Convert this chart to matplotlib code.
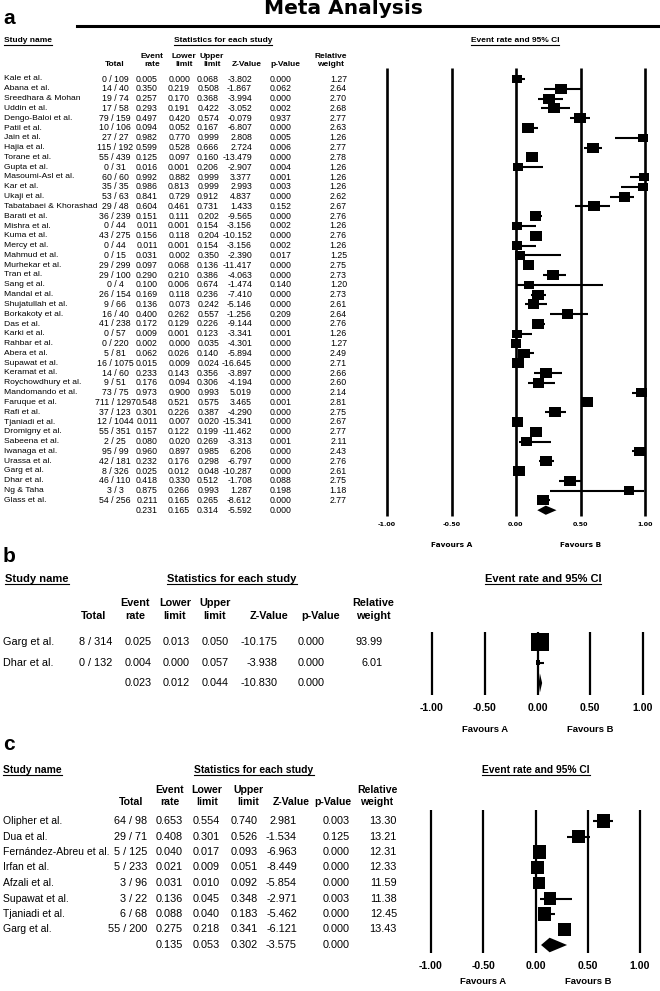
import matplotlib
matplotlib.use('Agg')
import matplotlib.pyplot as plt
from matplotlib.patches import Rectangle, Polygon
from matplotlib.lines import Line2D
from matplotlib.transforms import blended_transform_factory

# ---------------- data ----------------
# panel a
names_a = ["Kale et al.", "Abana et al.", "Sreedhara & Mohan", "Uddin et al.", "Dengo-Baloi et al.",
           "Patil et al.", "Jain et al.", "Hajia et al.", "Torane et al.", "Gupta et al.",
           "Masoumi-Asl et al.", "Kar et al.", "Ukaji et al.", "Tabatabaei & Khorashad", "Barati et al.",
           "Mishra et al.", "Kuma et al.", "Mercy et al.", "Mahmud et al.", "Murhekar et al.",
           "Tran et al.", "Sang et al.", "Mandal et al.", "Shujatullah et al.", "Borkakoty et al.",
           "Das et al.", "Karki et al.", "Rahbar et al.", "Abera et al.", "Supawat et al.",
           "Keramat et al.", "Roychowdhury et al.", "Mandomando et al.", "Faruque et al.", "Rafi et al.",
           "Tjaniadi et al.", "Dromigny et al.", "Sabeena et al.", "Iwanaga et al.", "Urassa et al.",
           "Garg et al.", "Dhar et al.", "Ng & Taha", "Glass et al."]
total_a = ["0 / 109", "14 / 40", "19 / 74", "17 / 58", "79 / 159", "10 / 106", "27 / 27", "115 / 192",
           "55 / 439", "0 / 31", "60 / 60", "35 / 35", "53 / 63", "29 / 48", "36 / 239", "0 / 44",
           "43 / 275", "0 / 44", "0 / 15", "29 / 299", "29 / 100", "0 / 4", "26 / 154", "9 / 66",
           "16 / 40", "41 / 238", "0 / 57", "0 / 220", "5 / 81", "16 / 1075", "14 / 60", "9 / 51",
           "73 / 75", "711 / 1297", "37 / 123", "12 / 1044", "55 / 351", "2 / 25", "95 / 99",
           "42 / 181", "8 / 326", "46 / 110", "3 / 3", "54 / 256"]
rate_a = [0.005, 0.350, 0.257, 0.293, 0.497, 0.094, 0.982, 0.599, 0.125, 0.016, 0.992, 0.986, 0.841,
          0.604, 0.151, 0.011, 0.156, 0.011, 0.031, 0.097, 0.290, 0.100, 0.169, 0.136, 0.400, 0.172,
          0.009, 0.002, 0.062, 0.015, 0.233, 0.176, 0.973, 0.548, 0.301, 0.011, 0.157, 0.080, 0.960,
          0.232, 0.025, 0.418, 0.875, 0.211]
lower_a = [0.000, 0.219, 0.170, 0.191, 0.420, 0.052, 0.770, 0.528, 0.097, 0.001, 0.882, 0.813, 0.729,
           0.461, 0.111, 0.001, 0.118, 0.001, 0.002, 0.068, 0.210, 0.006, 0.118, 0.073, 0.262, 0.129,
           0.001, 0.000, 0.026, 0.009, 0.143, 0.094, 0.900, 0.521, 0.226, 0.007, 0.122, 0.020, 0.897,
           0.176, 0.012, 0.330, 0.266, 0.165]
upper_a = [0.068, 0.508, 0.368, 0.422, 0.574, 0.167, 0.999, 0.666, 0.160, 0.206, 0.999, 0.999, 0.912,
           0.731, 0.202, 0.154, 0.204, 0.154, 0.350, 0.136, 0.386, 0.674, 0.236, 0.242, 0.557, 0.226,
           0.123, 0.035, 0.140, 0.024, 0.356, 0.306, 0.993, 0.575, 0.387, 0.020, 0.199, 0.269, 0.985,
           0.298, 0.048, 0.512, 0.993, 0.265]
z_a = [-3.802, -1.867, -3.994, -3.052, -0.079, -6.807, 2.808, 2.724, -13.479, -2.907, 3.377, 2.993,
       4.837, 1.433, -9.565, -3.156, -10.152, -3.156, -2.390, -11.417, -4.063, -1.474, -7.410, -5.146,
       -1.256, -9.144, -3.341, -4.301, -5.894, -16.645, -3.897, -4.194, 5.019, 3.465, -4.290, -15.341,
       -11.462, -3.313, 6.206, -6.797, -10.287, -1.708, 1.287, -8.612]
p_a = [0.000, 0.062, 0.000, 0.002, 0.937, 0.000, 0.005, 0.006, 0.000, 0.004, 0.001, 0.003, 0.000,
       0.152, 0.000, 0.002, 0.000, 0.002, 0.017, 0.000, 0.000, 0.140, 0.000, 0.000, 0.209, 0.000,
       0.001, 0.000, 0.000, 0.000, 0.000, 0.000, 0.000, 0.001, 0.000, 0.000, 0.000, 0.001, 0.000,
       0.000, 0.000, 0.088, 0.198, 0.000]
weight_a = [1.27, 2.64, 2.70, 2.68, 2.77, 2.63, 1.26, 2.77, 2.78, 1.26, 1.26, 1.26, 2.62, 2.67, 2.76,
            1.26, 2.76, 1.26, 1.25, 2.75, 2.73, 1.20, 2.73, 2.61, 2.64, 2.76, 1.26, 1.27, 2.49, 2.71,
            2.66, 2.60, 2.14, 2.81, 2.75, 2.67, 2.77, 2.11, 2.43, 2.76, 2.61, 2.75, 1.18, 2.77]
summary_a = [0.231, 0.165, 0.314, -5.592, 0.000]

# panel b
names_b = ["Garg et al.", "Dhar et al."]
total_b = ["8 / 314", "0 / 132"]
rate_b = [0.025, 0.004]
lower_b = [0.013, 0.000]
upper_b = [0.050, 0.057]
z_b = [-10.175, -3.938]
p_b = [0.000, 0.000]
weight_b = [93.99, 6.01]
summary_b = [0.023, 0.012, 0.044, -10.830, 0.000]

# panel c
names_c = ["Olipher et al.", "Dua et al.", "Fernández-Abreu et al.", "Irfan et al.", "Afzali et al.",
           "Supawat et al.", "Tjaniadi et al.", "Garg et al."]
total_c = ["64 / 98", "29 / 71", "5 / 125", "5 / 233", "3 / 96", "3 / 22", "6 / 68", "55 / 200"]
rate_c = [0.653, 0.408, 0.040, 0.021, 0.031, 0.136, 0.088, 0.275]
lower_c = [0.554, 0.301, 0.017, 0.009, 0.010, 0.045, 0.040, 0.218]
upper_c = [0.740, 0.526, 0.093, 0.051, 0.092, 0.348, 0.183, 0.341]
z_c = [2.981, -1.534, -6.963, -8.449, -5.854, -2.971, -5.462, -6.121]
p_c = [0.003, 0.125, 0.000, 0.000, 0.000, 0.003, 0.000, 0.000]
weight_c = [13.30, 13.21, 12.31, 12.33, 11.59, 11.38, 12.45, 13.43]
summary_c = [0.135, 0.053, 0.302, -3.575, 0.000]

ticks = [-1.0, -0.5, 0.0, 0.5, 1.0]

# ---------------- figure ----------------
W, H = 660, 991
fig = plt.figure(figsize=(6.6, 9.91), dpi=100)
FONT = 'Liberation Sans'
underlined = []


def fx(px):
    return px / W


def fy(py):
    return 1 - py / H


def forest(xa, xb, top, bottom, y0, dy, pad, tfont, tsize, vlw):
    ax = fig.add_axes([fx(xa), fy(bottom), (xb - xa) / W, (bottom - top) / H])
    ax.set_xlim(-1, 1)
    ax.set_ylim((bottom - y0) / dy, (top - y0) / dy)
    for s in ax.spines.values():
        s.set_visible(False)
    ax.patch.set_visible(False)
    ax.set_yticks([])
    ax.set_xticks(ticks)
    ax.set_xticklabels([f'{t:.2f}' for t in ticks], fontweight='bold', fontsize=tsize, family=tfont)
    ax.tick_params(axis='x', length=0, pad=pad)
    for t in ticks:
        ax.axvline(t, color='black', lw=vlw, clip_on=False, solid_capstyle='butt')
    return ax


def draw_marks(ax, rates, lows, highs, weights, summ, ppu, dy, bmax, bmin, aspect, cilw):
    wmax = max(weights)
    for i, (r, lo, hi, w) in enumerate(zip(rates, lows, highs, weights)):
        ax.plot([lo, hi], [i, i], color='black', lw=cilw, solid_capstyle='butt', clip_on=False)
        s = max(bmin, bmax * (w / wmax) ** 0.5)
        bw = s / ppu
        bh = s * aspect / dy
        ax.add_patch(Rectangle((r - bw / 2, i - bh / 2), bw, bh, facecolor='black', lw=0, clip_on=False))
    n = len(rates)
    est, lo, hi = summ[0], summ[1], summ[2]
    hh = 0.47
    ax.add_patch(Polygon([(lo, n), (est, n - hh), (hi, n), (est, n + hh)], closed=True,
                         facecolor='black', lw=0, clip_on=False))


def table(ax, cols, rows, summ, size, name_x, name_size=None):
    # cols: x positions for total, rate, lower, upper, z, p, weight
    tr = blended_transform_factory(fig.transFigure, ax.transData)
    kw = dict(transform=tr, va='center', family=FONT)
    names, totals, rates, lows, highs, zs, ps, ws = rows
    for i in range(len(names)):
        ax.text(fx(name_x), i, names[i], ha='left', fontsize=name_size or size, **kw)
        tx, tha = cols[0]
        ax.text(fx(tx), i, totals[i], ha=tha, fontsize=size, **kw)
        vals = [f'{rates[i]:.3f}', f'{lows[i]:.3f}', f'{highs[i]:.3f}', f'{zs[i]:.3f}',
                f'{ps[i]:.3f}', f'{ws[i]:.2f}']
        for (x, ha), v in zip(cols[1:], vals):
            ax.text(fx(x), i, v, ha=ha, fontsize=size, **kw)
    n = len(names)
    svals = [f'{summ[0]:.3f}', f'{summ[1]:.3f}', f'{summ[2]:.3f}', f'{summ[3]:.3f}', f'{summ[4]:.3f}']
    for (x, ha), v in zip(cols[1:6], svals):
        ax.text(fx(x), n, v, ha=ha, fontsize=size, **kw)


def headers(hx, y1, y2, size, name_x, y_title, stat_x, ci_x, tsize):
    kw = dict(fontsize=size, fontweight='bold', family=FONT, va='center', ha='center')
    fig.text(fx(hx[0]), fy(y2), 'Total', **kw)
    fig.text(fx(hx[1]), fy(y1), 'Event', **kw)
    fig.text(fx(hx[1]), fy(y2), 'rate', **kw)
    fig.text(fx(hx[2]), fy(y1), 'Lower', **kw)
    fig.text(fx(hx[2]), fy(y2), 'limit', **kw)
    fig.text(fx(hx[3]), fy(y1), 'Upper', **kw)
    fig.text(fx(hx[3]), fy(y2), 'limit', **kw)
    fig.text(fx(hx[4]), fy(y2), 'Z-Value', **kw)
    fig.text(fx(hx[5]), fy(y2), 'p-Value', **kw)
    fig.text(fx(hx[6]), fy(y1), 'Relative', **kw)
    fig.text(fx(hx[6]), fy(y2), 'weight', **kw)
    tkw = dict(fontsize=tsize, fontweight='bold', family=FONT, va='center')
    underlined.append(fig.text(fx(name_x), fy(y_title), 'Study name', ha='left', **tkw))
    underlined.append(fig.text(fx(stat_x), fy(y_title), 'Statistics for each study', ha='center', **tkw))
    underlined.append(fig.text(fx(ci_x), fy(y_title), 'Event rate and 95% CI', ha='center', **tkw))


def favours(ax, ypix, y0, dy, size, font):
    r = (ypix - y0) / dy
    ax.text(-0.5, r, 'Favours A', ha='center', va='center', fontsize=size, fontweight='bold',
            family=font, clip_on=False)
    ax.text(0.5, r, 'Favours B', ha='center', va='center', fontsize=size, fontweight='bold',
            family=font, clip_on=False)


# title
fig.text(fx(343), fy(14), 'Meta Analysis', ha='center', va='baseline', fontsize=14.5,
         fontweight='bold', family='DejaVu Sans')
fig.add_artist(Line2D([fx(77), 1], [fy(25.5), fy(25.5)], color='black', lw=2.2))

# ---------- panel a ----------
fig.text(fx(3), fy(18), 'a', fontsize=15, fontweight='bold', family=FONT, va='center', ha='left')
y0a, dya = 79, 9.8
ax_a = forest(387, 645, 68, 516, y0a, dya, 4.2, 'DejaVu Sans', 4.6, 1.9)
draw_marks(ax_a, rate_a, lower_a, upper_a, weight_a, summary_a, 129, dya, 12, 10, 0.85, 1.5)
table(ax_a, [(115, 'center'), (158, 'right'), (190, 'right'), (219, 'right'), (252, 'right'),
             (292, 'right'), (347, 'right')],
      (names_a, total_a, rate_a, lower_a, upper_a, z_a, p_a, weight_a), summary_a, 6.3, 4, 6.1)
headers([115, 152, 184, 212, 247, 285, 331], 56, 64, 6.0, 4, 41, 223, 515, 6.0)
favours(ax_a, 545, y0a, dya, 5.3, 'DejaVu Sans')

# ---------- panel b ----------
fig.text(fx(3), fy(557), 'b', fontsize=15, fontweight='bold', family=FONT, va='center', ha='left')
y0b, dyb = 642, 20.5
ax_b = forest(432, 643, 632, 695, y0b, dyb, 5.8, FONT, 7.6, 1.6)
draw_marks(ax_b, rate_b, lower_b, upper_b, weight_b, summary_b, 105.5, dyb, 18, 3, 1.0, 1.5)
table(ax_b, [(112, 'right'), (152, 'right'), (190, 'right'), (229, 'right'), (278, 'right'),
             (325, 'right'), (383, 'right')],
      (names_b, total_b, rate_b, lower_b, upper_b, z_b, p_b, weight_b), summary_b, 7.8, 3)
headers([94, 135, 175, 215, 269, 321, 373], 603, 616, 7.8, 5, 579, 232, 543, 8.0)
favours(ax_b, 730, y0b, dyb, 6.8, FONT)

# ---------- panel c ----------
fig.text(fx(3), fy(745), 'c', fontsize=15, fontweight='bold', family=FONT, va='center', ha='left')
y0c, dyc = 821, 15.5
ax_c = forest(431, 640, 810, 953, y0c, dyc, 5.8, FONT, 7.6, 1.6)
draw_marks(ax_c, rate_c, lower_c, upper_c, weight_c, summary_c, 104.5, dyc, 13, 5, 1.05, 1.5)
table(ax_c, [(147, 'right'), (183, 'right'), (220, 'right'), (258, 'right'), (297, 'right'),
             (350, 'right'), (397, 'right')],
      (names_c, total_c, rate_c, lower_c, upper_c, z_c, p_c, weight_c), summary_c, 7.8, 3, 7.5)
headers([131, 170, 207, 248, 291, 333, 377], 790, 802, 7.6, 3, 770, 254, 536, 7.4)
favours(ax_c, 982, y0c, dyc, 6.8, FONT)

# underline the section headings
fig.canvas.draw()
renderer = fig.canvas.get_renderer()
for t in underlined:
    bb = t.get_window_extent(renderer).transformed(fig.transFigure.inverted())
    fig.add_artist(Line2D([bb.x0, bb.x1], [bb.y0 - 0.4 / H, bb.y0 - 0.4 / H], color='black', lw=0.8))

fig.savefig('out.png', dpi=100)
